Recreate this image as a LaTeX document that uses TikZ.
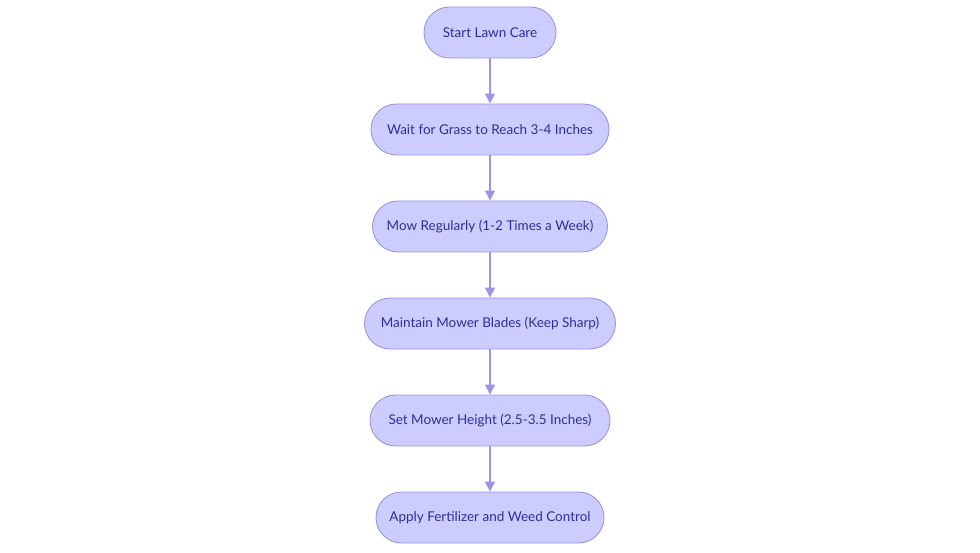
\documentclass[tikz,border=0pt]{standalone}
\usepackage{fontspec}
\setmainfont{Lato}
\usetikzlibrary{arrows.meta}
\definecolor{nodefill}{HTML}{CCCCFF}
\definecolor{nodeborder}{HTML}{9A96E6}
\definecolor{nodetext}{HTML}{2E2E9A}
\definecolor{arrowcol}{HTML}{9A96E6}
\tikzset{
  stepbox/.style={draw=nodeborder, fill=nodefill, line width=0.9pt, rounded corners=25.5pt,
    minimum height=51pt, inner sep=0pt, text=nodetext, font=\fontsize{13.5pt}{16pt}\selectfont},
  flow/.style={draw=arrowcol, line width=1.6pt, -{Triangle[length=10pt,width=10pt]}}
}
\begin{document}
\begin{tikzpicture}[x=1pt,y=1pt]
\useasboundingbox (0,0) rectangle (980,-553);
\node[stepbox, minimum width=132pt] (n1) at (490,-32.5) {Start Lawn Care};
\node[stepbox, minimum width=238pt] (n2) at (490,-129.5) {Wait for Grass to Reach 3-4 Inches};
\node[stepbox, minimum width=235pt] (n3) at (490,-226.5) {Mow Regularly (1-2 Times a Week)};
\node[stepbox, minimum width=251pt] (n4) at (490,-323.5) {Maintain Mower Blades (Keep Sharp)};
\node[stepbox, minimum width=240pt] (n5) at (490,-420.5) {Set Mower Height (2.5-3.5 Inches)};
\node[stepbox, minimum width=228pt] (n6) at (490,-517.5) {Apply Fertilizer and Weed Control};
\draw[flow] (n1) -- (n2);
\draw[flow] (n2) -- (n3);
\draw[flow] (n3) -- (n4);
\draw[flow] (n4) -- (n5);
\draw[flow] (n5) -- (n6);
\end{tikzpicture}
\end{document}
